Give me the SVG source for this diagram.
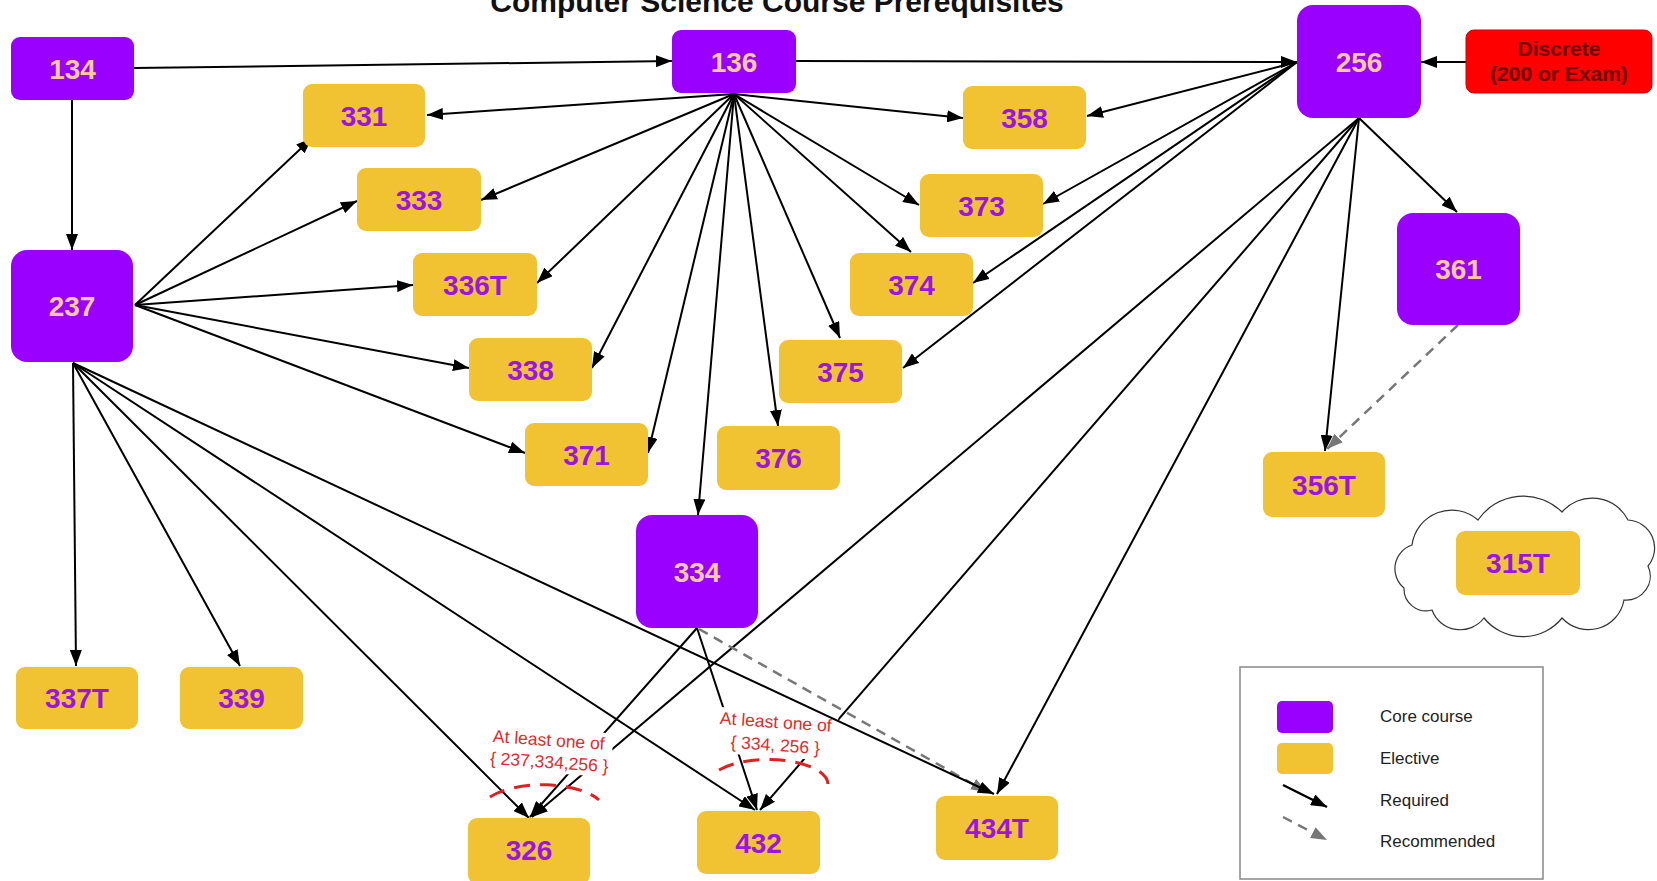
<svg xmlns="http://www.w3.org/2000/svg" width="1657" height="881" viewBox="0 0 1657 881">
<defs>
<style>
.core{fill:#9900ff}
.el{fill:#f1c232}
.red{fill:#ff0000;stroke:#d40000;stroke-width:1}
.tc{font-family:"Liberation Sans",Arial,sans-serif;font-weight:bold;font-size:28px;fill:#f9cb9c;text-anchor:middle}
.te{font-family:"Liberation Sans",Arial,sans-serif;font-weight:bold;font-size:28px;fill:#9a14e6;text-anchor:middle}
.tr{font-family:"Liberation Sans",Arial,sans-serif;font-weight:bold;font-size:21px;fill:#6e0000;text-anchor:middle}
.req{stroke:#000;stroke-width:2;fill:none;marker-end:url(#ah)}
.rec{stroke:#777;stroke-width:2.5;fill:none;stroke-dasharray:10 7;marker-end:url(#ahg)}
.note{font-family:"Liberation Sans",Arial,sans-serif;font-size:17.5px;fill:#e02b2b;text-anchor:middle}
.arc{stroke:#e02020;stroke-width:3;fill:none;stroke-dasharray:16 10}
.lg{font-family:"Liberation Sans",Arial,sans-serif;font-size:17px;fill:#222}
</style>
<marker id="ah" markerUnits="userSpaceOnUse" markerWidth="16" markerHeight="12" refX="16" refY="6" orient="auto"><path d="M0,0 L16,6 L0,12 z" fill="#000"/></marker>
<marker id="ahg" markerUnits="userSpaceOnUse" markerWidth="16" markerHeight="12" refX="16" refY="6" orient="auto"><path d="M0,0 L16,6 L0,12 z" fill="#777"/></marker>
</defs>
<rect width="1657" height="881" fill="#fff"/>
<text x="777" y="12" font-family="Liberation Sans,Arial,sans-serif" font-weight="bold" font-size="30" text-anchor="middle" fill="#111">Computer Science Course Prerequisites</text>

<g id="connectors">
<path class="req" d="M134,68 L672,61"/>
<path class="req" d="M72,100 L72,250"/>
<path class="req" d="M796,61 L1297,62"/>
<path class="req" d="M1466,62 L1421,62"/>
<path class="req" d="M734,94 L427,115"/>
<path class="req" d="M734,94 L481,200"/>
<path class="req" d="M734,94 L537,283"/>
<path class="req" d="M734,94 L592,368"/>
<path class="req" d="M734,94 L648,453"/>
<path class="req" d="M734,94 L698,515"/>
<path class="req" d="M734,94 L778,426"/>
<path class="req" d="M734,94 L840,338"/>
<path class="req" d="M734,94 L911,252"/>
<path class="req" d="M734,94 L919,205"/>
<path class="req" d="M734,94 L963,118"/>
<path class="req" d="M135,305 L312,138"/>
<path class="req" d="M135,305 L357,201"/>
<path class="req" d="M135,305 L413,285"/>
<path class="req" d="M135,305 L469,368"/>
<path class="req" d="M135,305 L525,453"/>
<path class="req" d="M73,363 L76,666"/>
<path class="req" d="M73,363 L240,666"/>
<path class="req" d="M73,363 L529,818"/>
<path class="req" d="M73,363 L755,810"/>
<path class="req" d="M1297,62 L1087,116"/>
<path class="req" d="M1297,62 L1043,204"/>
<path class="req" d="M1297,62 L973,283"/>
<path class="req" d="M1297,62 L903,368"/>
<path class="req" d="M1359,118 L1457,212"/>
<path class="req" d="M1359,118 L1325,451"/>
<path class="req" d="M1359,118 L997,794"/>
<path class="req" d="M1359,118 L760,810"/>
<path class="req" d="M1359,118 L532,817"/>
<path class="req" d="M697,628 L530,817"/>
<path class="req" d="M697,628 L757,810"/>
<path class="rec" d="M699,629 L987,792"/>
<path class="rec" d="M1458,325 L1327,449"/>
</g>

<g id="note-326">
<g transform="rotate(4 549 752)">
<rect x="487" y="729" width="125" height="44" fill="#fff"/>
<text class="note" x="548" y="746">At least one of</text>
<text class="note" x="550" y="768">{ 237,334,256 }</text>
</g>
<path class="arc" d="M490,797 A62 26 0 0 1 599,800"/>
</g>
<g id="note-432">
<g transform="rotate(4 776 734)">
<rect x="715" y="711" width="122" height="46" fill="#fff"/>
<text class="note" x="775" y="728">At least one of</text>
<text class="note" x="776" y="751">{ 334, 256 }</text>
</g>
<path class="arc" d="M719,770 A60 25 0 0 1 828,784"/>
</g>
<g id="edge-237-434T"><path class="req" d="M73,363 L994,794"/></g>

<g id="n134"><rect class="core" x="11" y="37" width="123" height="63" rx="9"/><text class="tc" x="72.5" y="78.5">134</text></g>
<g id="n136"><rect class="core" x="672" y="30" width="124" height="63" rx="9"/><text class="tc" x="734" y="71.5">136</text></g>
<g id="n256"><rect class="core" x="1297" y="5" width="124" height="113" rx="16"/><text class="tc" x="1359" y="71.5">256</text></g>
<g id="ndiscrete"><rect class="red" x="1466" y="30" width="186" height="63" rx="8"/><text class="tr" x="1559" y="56">Discrete</text><text class="tr" x="1559" y="81">(200 or Exam)</text></g>
<g id="n237"><rect class="core" x="11" y="250" width="122" height="112" rx="16"/><text class="tc" x="72" y="316">237</text></g>
<g id="n331"><rect class="el" x="303" y="84" width="122" height="63" rx="9"/><text class="te" x="364" y="125.5">331</text></g>
<g id="n333"><rect class="el" x="357" y="168" width="124" height="63" rx="9"/><text class="te" x="419" y="209.5">333</text></g>
<g id="n336T"><rect class="el" x="413" y="253" width="124" height="63" rx="9"/><text class="te" x="475" y="294.5">336T</text></g>
<g id="n338"><rect class="el" x="469" y="338" width="123" height="63" rx="9"/><text class="te" x="530.5" y="379.5">338</text></g>
<g id="n371"><rect class="el" x="525" y="423" width="123" height="63" rx="9"/><text class="te" x="586.5" y="464.5">371</text></g>
<g id="n376"><rect class="el" x="717" y="426" width="123" height="64" rx="9"/><text class="te" x="778.5" y="468">376</text></g>
<g id="n334"><rect class="core" x="636" y="515" width="122" height="113" rx="16"/><text class="tc" x="697" y="581.5">334</text></g>
<g id="n358"><rect class="el" x="963" y="86" width="123" height="63" rx="9"/><text class="te" x="1024.5" y="127.5">358</text></g>
<g id="n373"><rect class="el" x="920" y="174" width="123" height="63" rx="9"/><text class="te" x="981.5" y="215.5">373</text></g>
<g id="n374"><rect class="el" x="850" y="253" width="123" height="63" rx="9"/><text class="te" x="911.5" y="294.5">374</text></g>
<g id="n375"><rect class="el" x="779" y="340" width="123" height="63" rx="9"/><text class="te" x="840.5" y="381.5">375</text></g>
<g id="n361"><rect class="core" x="1397" y="213" width="123" height="112" rx="16"/><text class="tc" x="1458.5" y="279">361</text></g>
<g id="n356T"><rect class="el" x="1263" y="452" width="122" height="65" rx="9"/><text class="te" x="1324" y="494.5">356T</text></g>
<g id="n315T">
<path d="M1404,588 A25 25 0 0 1 1412,545 A40 40 0 0 1 1478,520 A55 55 0 0 1 1562,512 A40 40 0 0 1 1628,520 A28 28 0 0 1 1648,566 A24 24 0 0 1 1624,600 A36 36 0 0 1 1562,618 A50 50 0 0 1 1484,618 A30 30 0 0 1 1432,610 A22 22 0 0 1 1404,588 Z" fill="#fff" stroke="#333" stroke-width="1.2"/>
<rect class="el" x="1456" y="531" width="124" height="64" rx="9"/><text class="te" x="1518" y="573">315T</text></g>
<g id="n337T"><rect class="el" x="16" y="667" width="122" height="62" rx="9"/><text class="te" x="77" y="708">337T</text></g>
<g id="n339"><rect class="el" x="180" y="667" width="123" height="62" rx="9"/><text class="te" x="241.5" y="708">339</text></g>
<g id="n326"><rect class="el" x="468" y="818" width="122" height="66" rx="9"/><text class="te" x="529" y="860">326</text></g>
<g id="n432"><rect class="el" x="697" y="811" width="123" height="63" rx="9"/><text class="te" x="758.5" y="852.5">432</text></g>
<g id="n434T"><rect class="el" x="936" y="796" width="122" height="64" rx="9"/><text class="te" x="997" y="838">434T</text></g>

<g id="legend">
<rect x="1240" y="667" width="303" height="212" fill="#fff" stroke="#888" stroke-width="1.5"/>
<rect class="core" x="1277" y="701" width="56" height="32" rx="5"/>
<rect class="el" x="1277" y="743" width="56" height="31" rx="5"/>
<path class="req" style="stroke-width:2.5" d="M1283,785 L1327,807"/>
<path class="rec" d="M1283,817 L1327,840"/>
<text class="lg" x="1380" y="722">Core course</text>
<text class="lg" x="1380" y="764">Elective</text>
<text class="lg" x="1380" y="806">Required</text>
<text class="lg" x="1380" y="847">Recommended</text>
</g>
</svg>
